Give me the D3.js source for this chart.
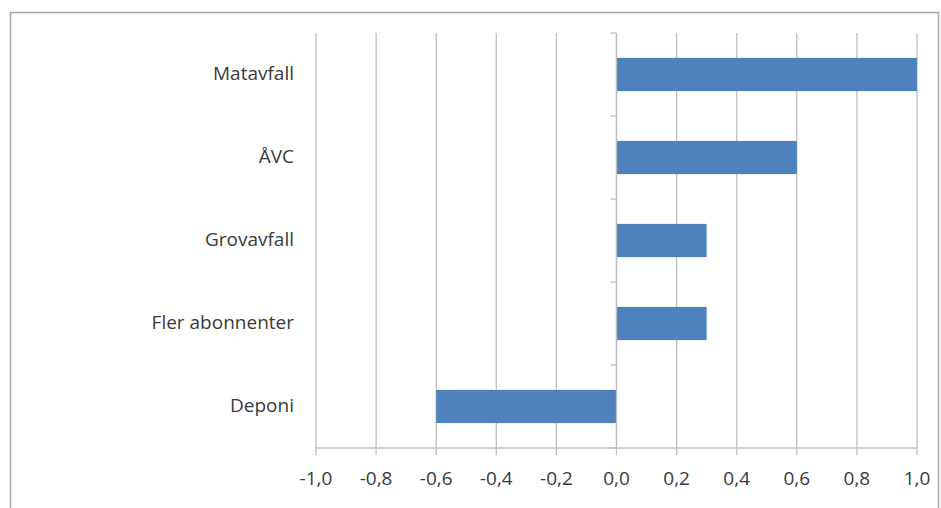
<!DOCTYPE html>
<html lang="sv">
  <head>
    <meta charset="utf-8">
    <title></title>
    <style>
      body { margin: 0; background: #fff; }
      svg { display: block; }
    </style>
  </head>
  <body>
    <svg width="941" height="508"></svg>
  </body>
  <script src="https://cdn.jsdelivr.net/npm/d3@7"></script>
  <script>

    const categories = ["Matavfall", "ÅVC", "Grovavfall", "Fler abonnenter", "Deponi"],
          values = [1.0, 0.6, 0.3, 0.3, -0.6],
          ticks = [-1.0, -0.8, -0.6, -0.4, -0.2, 0.0, 0.2, 0.4, 0.6, 0.8, 1.0]

    const margin = {top: 33, bottom: 60, left: 316, right: 24},
          width = 941,
          height = 508,
          svg = d3.select("svg"),
          font = "'Open Sans', 'Liberation Sans', sans-serif"

    const x = d3.scaleLinear().domain([-1, 1]).range([margin.left, width - margin.right]),
          y = d3.scaleBand().domain(categories).range([margin.top, height - margin.bottom]).paddingInner(0.6).paddingOuter(0.3)

    // outer frame
    svg.append("rect")
      .attr("x", 10.5).attr("y", 12.5)
      .attr("width", 928).attr("height", 510)
      .attr("fill", "none")
      .attr("stroke", "#a6a6a6")
      .attr("stroke-width", 1.5)

    // vertical gridlines
    svg.append("g")
      .selectAll("line")
      .data(ticks)
      .enter().append("line")
        .attr("x1", d => x(d)).attr("x2", d => x(d))
        .attr("y1", margin.top).attr("y2", height - margin.bottom + 7)
        .attr("stroke", "#bfbfbf")
        .attr("stroke-width", 1.3)

    // bars
    svg.append("g")
      .selectAll("rect")
      .data(categories)
      .enter().append("rect")
        .attr("x", (d, i) => x(Math.min(0, values[i])))
        .attr("y", d => y(d))
        .attr("width", (d, i) => Math.abs(x(values[i]) - x(0)))
        .attr("height", y.bandwidth())
        .attr("fill", "#4f81bd")

    // x axis line
    svg.append("line")
      .attr("x1", x(-1)).attr("x2", x(1))
      .attr("y1", height - margin.bottom).attr("y2", height - margin.bottom)
      .attr("stroke", "#bfbfbf")
      .attr("stroke-width", 1.3)

    // category axis at zero
    const step = y.step(),
          bounds = d3.range(categories.length + 1).map(i => margin.top + i * step)

    svg.append("line")
      .attr("x1", x(0)).attr("x2", x(0))
      .attr("y1", margin.top).attr("y2", height - margin.bottom)
      .attr("stroke", "#bfbfbf")
      .attr("stroke-width", 1.3)

    svg.append("g")
      .selectAll("line")
      .data(bounds)
      .enter().append("line")
        .attr("x1", x(0) - 6).attr("x2", x(0))
        .attr("y1", d => d).attr("y2", d => d)
        .attr("stroke", "#bfbfbf")
        .attr("stroke-width", 1.3)

    // category labels
    svg.append("g")
      .selectAll("text")
      .data(categories)
      .enter().append("text")
        .text(d => d)
        .attr("x", 294)
        .attr("y", d => y(d) + y.bandwidth() / 2)
        .attr("text-anchor", "end")
        .attr("dominant-baseline", "middle")
        .style("font-family", font)
        .style("font-size", "19px")
        .style("fill", "#3a3a3a")

    // tick labels
    svg.append("g")
      .selectAll("text")
      .data(ticks)
      .enter().append("text")
        .text(d => d3.format(".1f")(d).replace("−", "-").replace(".", ","))
        .attr("x", d => x(d))
        .attr("y", 480)
        .attr("text-anchor", "middle")
        .attr("dominant-baseline", "middle")
        .style("font-family", font)
        .style("font-size", "19px")
        .style("fill", "#3a3a3a")

  </script>
</html>
